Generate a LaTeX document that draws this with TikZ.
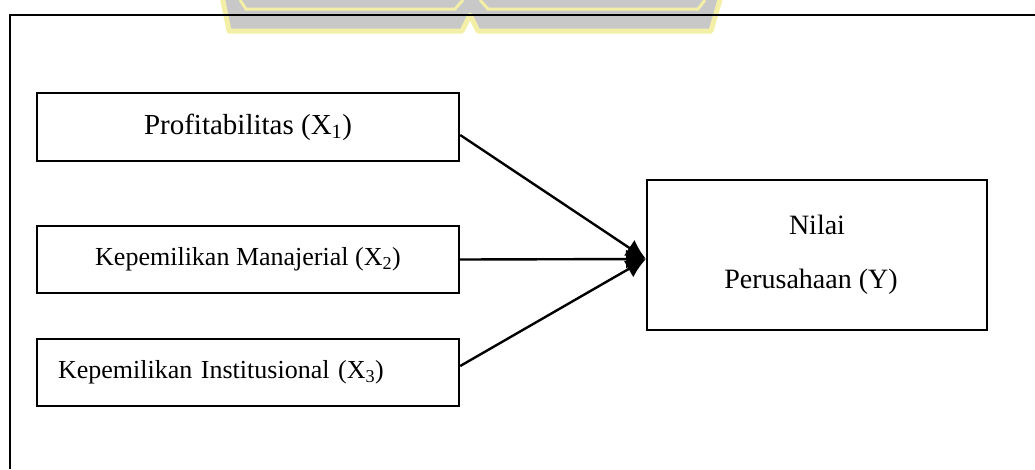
\documentclass[tikz,border=0pt]{standalone}
\usepackage{fontspec}
\setmainfont{Liberation Serif}
\usepackage{tikz}
\usetikzlibrary{arrows.meta}
\definecolor{wmgray}{HTML}{C8C8C8}
\definecolor{wmyellow}{HTML}{F4EFA6}

\begin{document}
\begin{tikzpicture}[x=1pt, y=-1pt,
		box/.style={draw, line width=2.4pt, rectangle, inner sep=0pt},
		link/.style={line width=2.4pt, -{Latex[length=20pt, width=19pt]}}]
			\useasboundingbox (0, 0) rectangle (1035, 469);
			%%
			\fill[wmgray, draw=wmyellow, line width=5pt, line join=round] (222, -4) -- (229, 31) -- (462, 31) -- (470, 15) -- (478, 31) -- (711, 31) -- (721, -4) -- cycle;
			\draw[wmyellow, line width=3pt] (240, 0) -- (246, 9) -- (455, 9) -- (463, 0);
			\draw[wmyellow, line width=3pt] (480, 0) -- (488, 9) -- (698, 9) -- (705, 0);
			%%
			\draw[line width=2.4pt] (10, 469) -- (10, 15) -- (1035, 15);
			%%
			\node[box, minimum width=422pt, minimum height=68pt, font=\fontsize{29}{34}\selectfont] (prof) at (248, 127) {Profitabilitas (X\textsubscript{1})};
			\node[box, minimum width=422pt, minimum height=67pt, font=\fontsize{26}{31}\selectfont] (manaj) at (248, 259.5) {Kepemilikan Manajerial (X\textsubscript{2})};
			\node[box, minimum height=67pt, text width=380pt, inner xsep=21pt, align=left, font=\fontsize{26}{31}\selectfont] (inst) at (248, 372.5) {Kepemilikan Institusional (X\textsubscript{3})};
			%%
			\node[box, minimum width=340pt, minimum height=150pt, align=center, font=\fontsize{28}{33}\selectfont] (nilai) at (817, 255) {Nilai\\[21pt]Perusahaan (Y)\hspace*{12pt}};
			%%
			\coordinate (tip) at (646, 259);
			\draw[link] ([yshift=-8pt]prof.east) -- (tip);
			\draw[link] (manaj.east) -- (tip);
			\draw[link] ([yshift=6.5pt]inst.east) -- (tip);
		\end{tikzpicture}
\end{document}
